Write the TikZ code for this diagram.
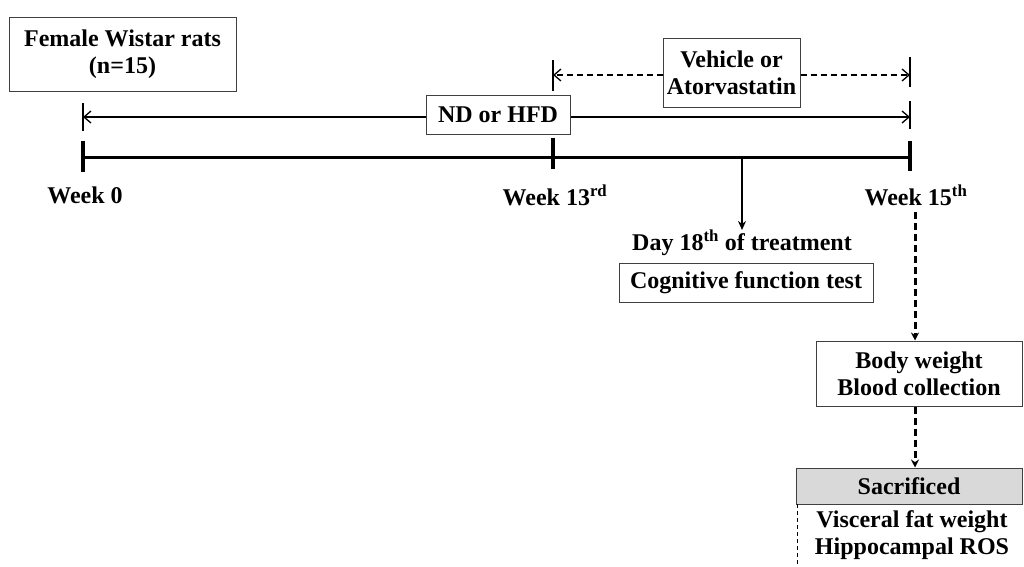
\documentclass[tikz,border=0pt]{standalone}
\usepackage{fontspec}
\setmainfont{Liberation Serif}
\usetikzlibrary{arrows.meta}
\definecolor{boxgray}{HTML}{D9D9D9}
\begin{document}
\begin{tikzpicture}[x=1pt,y=-1pt,
  txt/.style={font=\fontsize{24}{27}\selectfont\bfseries, inner sep=0pt, align=center},
  frame/.style={txt, draw=black!75, line width=1pt, fill=white},
  thin/.style={line width=1.5pt},
  thick/.style={line width=3pt},
  tick/.style={line width=4pt},
  smalltick/.style={line width=1.8pt},
  barb/.style={-{Straight Barb[length=7pt,width=12pt,line width=1.3pt]}},
  vdash/.style={line width=3pt, dash pattern=on 7pt off 4pt},
  hdash/.style={line width=1.5pt, dash pattern=on 6pt off 4pt},
]
\useasboundingbox (0,0) rectangle (1024,566);

% boxes
\node[frame, minimum width=227pt, minimum height=74pt] (rats) at (122.5,54) {Female Wistar rats\\(n=15)};
\node[frame, minimum width=144pt, minimum height=39pt] (nd) at (498,114.5) {ND or HFD};
\node[frame, minimum width=137pt, minimum height=69pt] (veh) at (731.5,72.5) {Vehicle or\\Atorvastatin};
\node[frame, minimum width=254pt, minimum height=39pt] (cog) at (746,282.5) {Cognitive function test};
\node[frame, minimum width=206pt, minimum height=65pt] (body) at (919,373.5) {Body weight\\Blood collection};
\node[frame, fill=boxgray, minimum width=226pt, minimum height=36pt] (sac) at (909,486) {Sacrificed};
\node[txt] (visc) at (912,535) {Visceral fat weight\\Hippocampal ROS};

% labels
\node[txt] (w0) at (85,195) {Week 0};
\node[txt] (w13) at (555,195) {Week 13\textsuperscript{rd}};
\node[txt] (w15) at (916,195) {Week 15\textsuperscript{th}};
\node[txt] (day) at (742,243) {Day 18\textsuperscript{th} of treatment};

% coordinates
\coordinate (t0) at (83,157);
\coordinate (t13) at (553,157);
\coordinate (t15) at (910,157);
\coordinate (tday) at (742,157);
\coordinate (dayend) at (742,230);
\coordinate (a0) at (83,117);
\coordinate (a15) at (910,117);
\coordinate (v13) at (553,75);
\coordinate (v15) at (910,75);
\coordinate (d15) at (915,212);
\coordinate (sacbl) at (797,504);
\coordinate (bottom) at (797,566);

% main timeline
\draw[thick] (t0) -- (t15);
\draw[tick] ([yshift=-15pt]t0) -- ([yshift=16pt]t0);
\draw[tick] ([yshift=-12pt]t13) -- ([yshift=19pt]t13);
\draw[tick] ([yshift=-14pt]t15) -- ([yshift=16pt]t15);

% ND or HFD arrow
\draw[smalltick] ([yshift=-14pt]a0) -- ([yshift=14pt]a0);
\draw[smalltick] ([yshift=-12pt]a15) -- ([yshift=16pt]a15);
\draw[thin, barb] (a0 -| nd.west) -- (a0);
\draw[thin, barb] (a15 -| nd.east) -- (a15);

% vehicle arrow
\draw[smalltick] ([yshift=-16pt]v13) -- ([yshift=15pt]v13);
\draw[smalltick] ([yshift=-12pt]v15) -- ([yshift=18pt]v15);
\draw[hdash, barb] (v13 -| veh.west) -- (v13);
\draw[hdash, barb] (v15 -| veh.east) -- (v15);

% day 18 arrow
\draw[thin, -{Stealth[length=9pt,width=8pt]}] (tday) -- (dayend);

% vertical dashed arrows
\draw[vdash, -{Stealth[length=8pt,width=8pt]}] (d15) -- (d15 |- body.north);
\draw[vdash, -{Stealth[length=8pt,width=8pt]}] (d15 |- body.south) -- (d15 |- sac.north);

% thin dashed line below sacrificed
\draw[line width=1pt, dash pattern=on 4pt off 3pt] (sacbl) -- (bottom);
\end{tikzpicture}
\end{document}
